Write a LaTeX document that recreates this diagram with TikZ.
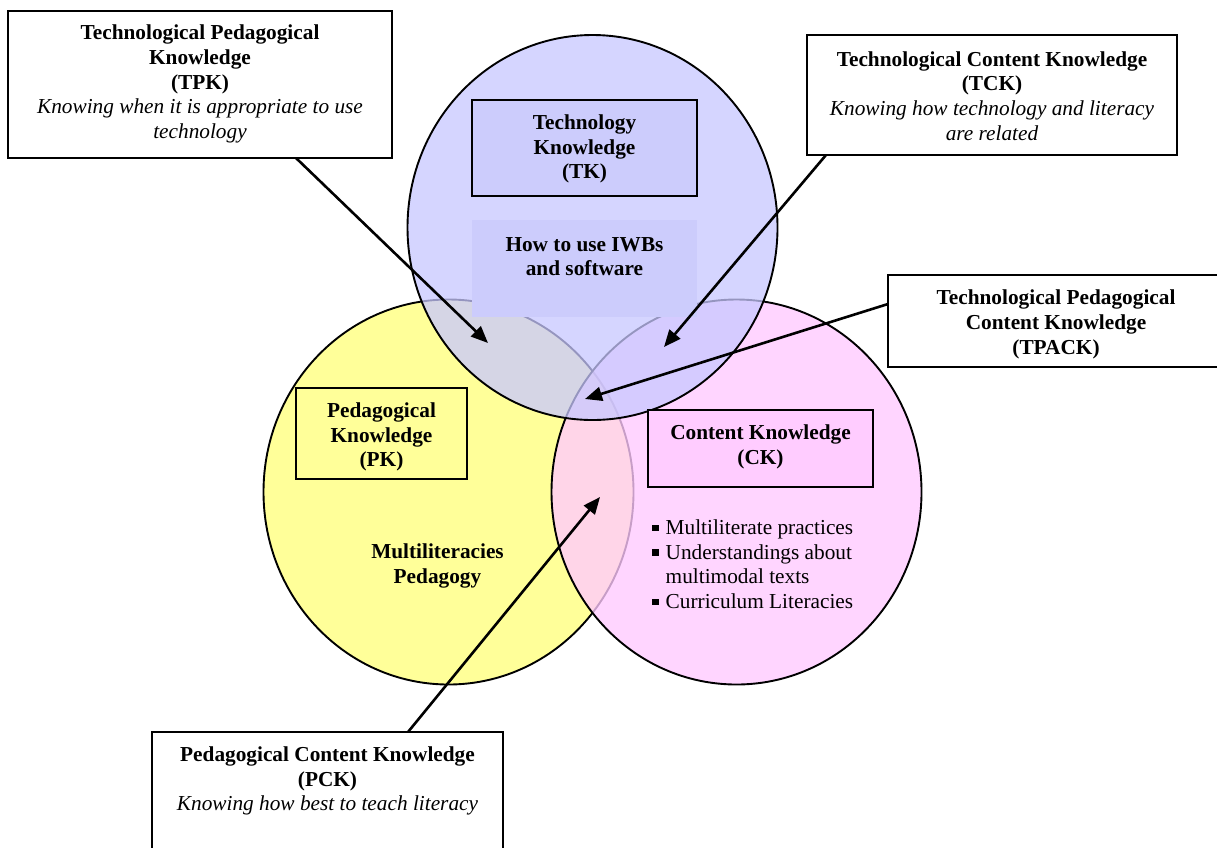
\documentclass[tikz,border=0pt]{standalone}
\usepackage{fontspec}
\setmainfont{Liberation Serif}
\usetikzlibrary{arrows.meta,shapes.geometric}
\definecolor{yel}{RGB}{255,255,153}
\definecolor{pnk}{RGB}{255,202,255}
\definecolor{blu}{RGB}{200,200,255}
\definecolor{tkbox}{RGB}{204,204,252}
\definecolor{ckbox}{RGB}{255,204,255}
\begin{document}
\begin{tikzpicture}[x=1pt,y=-1pt,
  venn/.style={ellipse, draw=black, line width=1.9pt, minimum width=370pt, minimum height=385pt, inner sep=0pt},
  box/.style={draw=black, line width=2.1pt, rectangle, inner sep=0pt},
  lbl/.style={align=center, inner sep=0pt, font=\fontsize{21.3}{24.7}\selectfont},
  arr/.style={line width=2.6pt, -{Triangle[length=17pt,width=14pt]}}]
\useasboundingbox (0,0) rectangle (1217,847);
\fill[white] (0,0) rectangle (1217,847);
% circles
\node[venn, fill=yel] (pk) at (448.5,492) {};
\node[venn, fill=pnk, fill opacity=0.78] (ck) at (736.5,492) {};
\node[venn, fill=blu, fill opacity=0.75] (tk) at (592.5,227.5) {};
% inner boxes
\node[box, fill=tkbox, minimum width=225pt, minimum height=96pt] (tkbx) at (584.5,148) {};
\node[rectangle, inner sep=0pt, fill=tkbox, minimum width=225pt, minimum height=97pt] (iwbbx) at (584.5,268.5) {};
\node[box, minimum width=171pt, minimum height=91pt] (pkbx) at (381.5,433.5) {};
\node[box, fill=ckbox, minimum width=225pt, minimum height=77pt] (ckbx) at (760.5,448.5) {};
% outer boxes
\node[box, fill=white, minimum width=384pt, minimum height=147pt] (tpk) at (200,84.5) {};
\node[box, fill=white, minimum width=370pt, minimum height=120pt] (tck) at (992,95) {};
\node[box, fill=white, minimum width=337pt, minimum height=92pt] (tpack) at (1056.5,321) {};
\node[box, fill=white, minimum width=351pt, minimum height=168pt] (pck) at (327.5,816) {};
% texts
\node[lbl] (tpkT) at (200,84) {\textbf{Technological Pedagogical}\\\textbf{Knowledge}\\\textbf{(TPK)}\\\textit{Knowing when it is appropriate to use}\\\textit{technology}};
\node[lbl] (tckT) at (992,96) {\textbf{Technological Content Knowledge}\\\textbf{(TCK)}\\\textit{Knowing how technology and literacy}\\\textit{are related}};
\node[lbl] (tpackT) at (1056,324.5) {\textbf{Technological Pedagogical}\\\textbf{Content Knowledge}\\\textbf{(TPACK)}};
\node[lbl] (pckT) at (327.5,781) {\textbf{Pedagogical Content Knowledge}\\\textbf{(PCK)}\\\textit{Knowing how best to teach literacy}};
\node[lbl] (tkT) at (584.5,149) {\textbf{Technology}\\\textbf{Knowledge}\\\textbf{(TK)}};
\node[lbl] (iwbT) at (584.5,256.5) {\textbf{How to use IWBs}\\\textbf{and software}};
\node[lbl] (pkT) at (381.5,437) {\textbf{Pedagogical}\\\textbf{Knowledge}\\\textbf{(PK)}};
\node[lbl] (ckT) at (760.5,447) {\textbf{Content Knowledge}\\\textbf{(CK)}};
\node[lbl] (mpT) at (437.5,566) {\textbf{Multiliteracies}\\\textbf{Pedagogy}};
\node[lbl, anchor=north west, align=left] (list) at (652,517) {%
\begin{tabular}{@{}l@{\hspace{7pt}}l@{}}
\raisebox{3.5pt}{\rule{6.5pt}{6.5pt}} & Multiliterate practices\\
\raisebox{3.5pt}{\rule{6.5pt}{6.5pt}} & Understandings about\\
 & multimodal texts\\
\raisebox{3.5pt}{\rule{6.5pt}{6.5pt}} & Curriculum Literacies
\end{tabular}};
% arrows
\coordinate (a1s) at (296,158);
\coordinate (a1e) at (488,343);
\coordinate (a2s) at (826,155);
\coordinate (a2e) at (664,347);
\coordinate (a3s) at (888,304);
\coordinate (a3e) at (585,399);
\coordinate (a4s) at (408,732);
\coordinate (a4e) at (600,497);
\draw[arr] (a1s) -- (a1e);
\draw[arr] (a2s) -- (a2e);
\draw[arr] (a3s) -- (a3e);
\draw[arr] (a4s) -- (a4e);
\end{tikzpicture}
\end{document}
